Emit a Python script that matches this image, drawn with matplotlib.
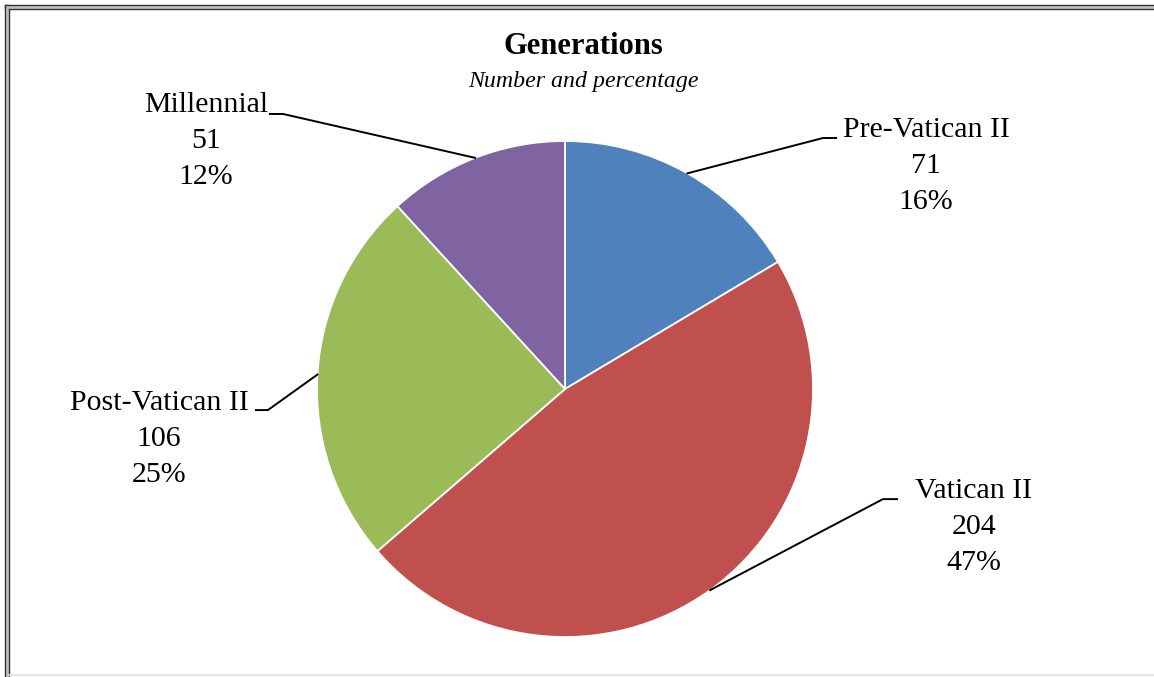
import numpy as np
import matplotlib.pyplot as plt
from matplotlib.lines import Line2D

plt.rcParams['font.family'] = ['Liberation Serif', 'DejaVu Serif']

labels = ['Pre-Vatican II', 'Vatican II', 'Post-Vatican II', 'Millennial']
counts = [71, 204, 106, 51]
percents = ['16%', '47%', '25%', '12%']
colors = ['#4F81BD', '#C0504D', '#9BBB59', '#8064A2']

# elbow, elbow end and text centre of each leader (pie radius units)
elbows = [(1.040, 1.012), (1.282, -0.444), (-1.198, -0.085), (-1.137, 1.109)]
ends = [(1.093, 1.012), (1.339, -0.444), (-1.246, -0.085), (-1.190, 1.109)]
text_pos = [(1.456, 0.899), (1.649, -0.556), (-1.637, -0.202), (-1.448, 1.0)]

W, H = 1154, 677
fig = plt.figure(figsize=(W / 100, H / 100), dpi=100)
cx, cy, r = 565, 389, 248
ax = fig.add_axes([(cx - r) / W, (H - cy - r) / H, 2 * r / W, 2 * r / H])

wedges, _ = ax.pie(counts, colors=colors, startangle=90, counterclock=False,
                   radius=1, wedgeprops=dict(edgecolor='white', linewidth=1.3))
ax.set_xlim(-1, 1)
ax.set_ylim(-1, 1)
ax.set_aspect('equal')
ax.axis('off')

total = sum(counts)
start = 0.0
for i, c in enumerate(counts):
    mid = np.deg2rad(start + c / total * 180)
    start += c / total * 360
    px, py = np.sin(mid), np.cos(mid)
    xs = [px, elbows[i][0], ends[i][0]]
    ys = [py, elbows[i][1], ends[i][1]]
    ax.add_line(Line2D(xs, ys, color='black', lw=1.4, clip_on=False))
    ax.text(text_pos[i][0], text_pos[i][1],
            f'{labels[i]}\n{counts[i]}\n{percents[i]}',
            ha='center', va='center', fontsize=21.5, linespacing=1.5)

fig.text(583 / W, 1 - 46 / H, 'Generations', ha='center', va='center',
         fontsize=22, fontweight='bold')
fig.text(583 / W, 1 - 81 / H, 'Number and percentage', ha='center', va='center',
         fontsize=17.2, fontstyle='italic')

# double border
def hline(y, x0, x1, **kw):
    fig.add_artist(Line2D([x0 / W, x1 / W], [1 - y / H, 1 - y / H],
                          transform=fig.transFigure, **kw))

def vline(x, y0, y1, **kw):
    fig.add_artist(Line2D([x / W, x / W], [1 - y0 / H, 1 - y1 / H],
                          transform=fig.transFigure, **kw))

hline(6.7, 5, W, color='#c0c0c0', lw=2.0)
vline(7.0, 5, H, color='#c0c0c0', lw=2.0)
hline(5, 5, W, color='#333333', lw=1.0)
hline(8.5, 9, W, color='#333333', lw=1.0)
vline(5, 5, H, color='#333333', lw=1.0)
vline(9, 8.5, H, color='#333333', lw=1.0)
hline(675, 9, W, color='#e0e0e0', lw=1.2)

fig.savefig('out.png', dpi=100)
